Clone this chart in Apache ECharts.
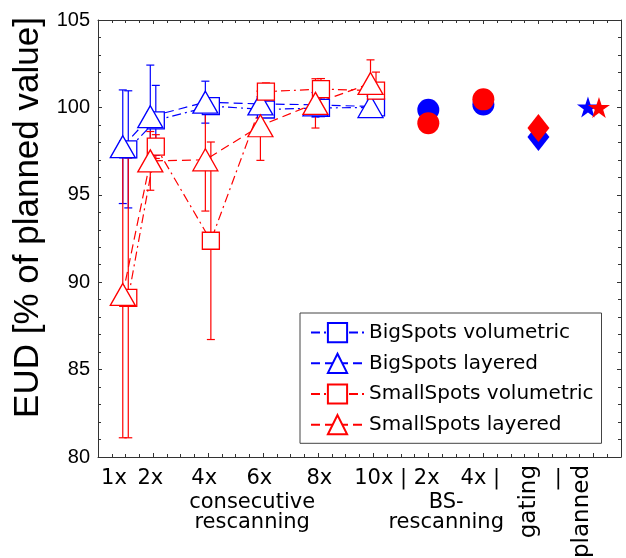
<!DOCTYPE html>
<html>
<head>
<meta charset="utf-8">
<script src="https://cdn.jsdelivr.net/npm/echarts@6/dist/echarts.min.js"></script>
<style>
  html, body { margin: 0; padding: 0; background: #fff; }
  #chart { width: 626px; height: 558px; }
</style>
</head>
<body>
<div id="chart"></div>
<script>
// x positions of the markers (triangles sit a bit left, squares a bit right of the tick)
const triX = [0.9, 1.9, 3.9, 5.9, 7.9, 9.9]
const sqX = [1.1, 2.1, 4.1, 6.1, 8.1, 10.1]

// consecutive rescanning, EUD in % of planned value and error half-widths
const bigVol = [97.6, 99.26, 100.07, 99.88, 99.97, 100.0]
const bigVolErr = [3.35, 2.0, 0.3, 0.3, 0.5, 0.4]
const bigLay = [97.75, 99.47, 100.3, 100.2, 100.15, 100.05]
const bigLayErr = [3.25, 2.95, 1.2, 0.4, 0.7, 0.6]
const smallVol = [89.1, 97.76, 92.37, 100.9, 101.05, 100.96]
const smallVolErr = [8.0, 0.68, 5.65, 0.5, 0.6, 1.06]
const smallLay = [89.3, 96.94, 97.0, 98.95, 100.23, 101.37]
const smallLayErr = [8.2, 1.68, 2.93, 1.98, 1.41, 1.35]

// BS-rescanning, gating, planned (blue = BigSpots, red = SmallSpots)
const bsX = [12, 14]
const bsBlue = [99.87, 100.17]
const bsRed = [99.1, 100.46]
const gatingX = [16]
const gatingBlue = [98.3]
const gatingRed = [98.82]
const plannedBlueX = [17.8]
const plannedRedX = [18.2]
const plannedBlue = [100.02]
const plannedRed = [100.0]

// tick labels
const tickPos = [0.58, 1.9, 3.86, 5.86, 8.04, 10.86, 13.89, 16.72]
const tickText = ['1x', '2x', '4x', '6x', '8x', '10x | 2x', '4x |', '|']
const groupPos = [5.6, 12.65]
const groupText = ['consecutive\nrescanning', 'BS-\nrescanning']
const sidePos = [15.67, 17.6]
const sideText = ['gating', 'planned']

const names = ['BigSpots volumetric', 'BigSpots layered', 'SmallSpots volumetric', 'SmallSpots layered']
const blue = '#0000ff'
const red = '#ff0000'
const dashDot = [9, 4, 2, 4]
const dashed = [9, 5]
const star = 'path://M50 0 L61.2 34.5 L97.6 34.5 L68.2 55.9 L79.4 90.5 L50 69.1 L20.6 90.5 L31.8 55.9 L2.4 34.5 L38.8 34.5 Z'

const pairs = (xs, ys) => xs.map((x, i) => [x, ys[i]])
const bars = (xs, ys, es) => xs.map((x, i) => [x, ys[i] - es[i], ys[i] + es[i]])
const lookup = (pos, text) => (v) => {
  const i = pos.findIndex((p) => Math.abs(p - v) < 1e-6)
  return i < 0 ? '' : text[i]
}

function errorBars(color) {
  return function (params, api) {
    const x = api.value(0)
    const lo = api.coord([x, api.value(1)])
    const hi = api.coord([x, api.value(2)])
    const cap = 4
    const st = { stroke: color, lineWidth: 1.2 }
    return {
      type: 'group',
      children: [
        { type: 'line', shape: { x1: lo[0], y1: lo[1], x2: hi[0], y2: hi[1] }, style: st },
        { type: 'line', shape: { x1: lo[0] - cap, y1: lo[1], x2: lo[0] + cap, y2: lo[1] }, style: st },
        { type: 'line', shape: { x1: hi[0] - cap, y1: hi[1], x2: hi[0] + cap, y2: hi[1] }, style: st }
      ]
    }
  }
}

function errSeries(xs, ys, es, color) {
  return {
    type: 'custom',
    renderItem: errorBars(color),
    encode: { x: 0, y: [1, 2] },
    data: bars(xs, ys, es),
    z: 2,
    silent: true
  }
}

function lineSeries(name, xs, ys, color, symbol, size, dash) {
  return {
    name: name,
    type: 'line',
    data: pairs(xs, ys),
    symbol: symbol,
    symbolSize: size,
    showAllSymbol: true,
    lineStyle: { color: color, width: 1.2, type: dash },
    itemStyle: { color: '#fff', borderColor: color, borderWidth: 1.3 },
    z: 3
  }
}

function pointSeries(xs, ys, color, symbol, size) {
  return {
    type: 'scatter',
    data: pairs(xs, ys),
    symbol: symbol,
    symbolSize: size,
    itemStyle: { color: color, opacity: 1 },
    z: 4
  }
}

const axisColor = '#333'
const frameX = {
  type: 'value', min: 0, max: 19, interval: 2,
  axisLine: { show: true, onZero: false, lineStyle: { color: axisColor, width: 1 } },
  axisTick: { show: true, inside: true, length: 4, lineStyle: { color: axisColor } },
  minorTick: { show: true, splitNumber: 4, length: 3, lineStyle: { color: axisColor } },
  axisLabel: { show: false },
  splitLine: { show: false }
}
const frameY = {
  type: 'value', min: 80, max: 105, interval: 5,
  axisLine: { show: true, onZero: false, lineStyle: { color: axisColor, width: 1 } },
  axisTick: { show: true, inside: true, length: 4, lineStyle: { color: axisColor } },
  minorTick: { show: true, splitNumber: 5, length: 3, lineStyle: { color: axisColor } },
  axisLabel: { show: false },
  splitLine: { show: false }
}
const labelX = (pos, text, extra) => Object.assign({
  type: 'value', min: 0, max: 19, position: 'bottom',
  axisLine: { show: false }, axisTick: { show: false }, splitLine: { show: false },
  axisLabel: Object.assign({
    customValues: pos,
    formatter: lookup(pos, text),
    color: '#000',
    fontFamily: 'DejaVu Sans',
    fontSize: 21,
    margin: 11
  }, extra)
})

const chart = echarts.init(document.getElementById('chart'))
const option = {
  animation: false,
  backgroundColor: '#fff',
  grid: { left: 98, right: 5, top: 20, bottom: 101, containLabel: false, outerBoundsMode: 'none' },
  legend: {
    data: names,
    orient: 'vertical',
    left: 300,
    top: 313,
    padding: [9, 8, 8, 10],
    itemGap: 9.5,
    itemWidth: 53,
    itemHeight: 24,
    backgroundColor: '#fff',
    borderColor: '#444',
    borderWidth: 1,
    borderRadius: 0,
    selectedMode: false,
    z: 10,
    textStyle: { fontFamily: 'DejaVu Sans', fontSize: 20, color: '#000' }
  },
  xAxis: [
    Object.assign({}, frameX, { position: 'bottom' }),
    Object.assign({}, frameX, { position: 'top' }),
    labelX(tickPos, tickText, {}),
    labelX(groupPos, groupText, { margin: 36, lineHeight: 20, align: 'center' }),
    labelX(sidePos, sideText, { rotate: 90, margin: 8, fontSize: 23 })
  ],
  yAxis: [
    Object.assign({}, frameY, {
      position: 'left',
      axisLabel: { show: true, color: '#000', fontFamily: 'Liberation Sans', fontSize: 20, margin: 8 },
      name: 'EUD [% of planned value]',
      nameLocation: 'middle',
      nameGap: 38,
      nameTextStyle: { color: '#000', fontFamily: 'Liberation Sans', fontSize: 35, padding: [0, 0, 0, 42] }
    }),
    Object.assign({}, frameY, { position: 'right' })
  ],
  series: [
    errSeries(sqX, bigVol, bigVolErr, blue),
    lineSeries(names[0], sqX, bigVol, blue, 'rect', 17, dashDot),
    errSeries(triX, bigLay, bigLayErr, blue),
    lineSeries(names[1], triX, bigLay, blue, 'triangle', [25, 22], dashed),
    errSeries(sqX, smallVol, smallVolErr, red),
    lineSeries(names[2], sqX, smallVol, red, 'rect', 17, dashDot),
    errSeries(triX, smallLay, smallLayErr, red),
    lineSeries(names[3], triX, smallLay, red, 'triangle', [25, 22], dashed),
    pointSeries(bsX, bsBlue, blue, 'circle', 22),
    pointSeries(bsX, bsRed, red, 'circle', 22),
    pointSeries(gatingX, gatingBlue, blue, 'diamond', [22, 28]),
    pointSeries(gatingX, gatingRed, red, 'diamond', [22, 28]),
    pointSeries(plannedBlueX, plannedBlue, blue, star, [22, 21]),
    pointSeries(plannedRedX, plannedRed, red, star, [22, 21])
  ]
}
chart.setOption(option)
</script>
</body>
</html>
